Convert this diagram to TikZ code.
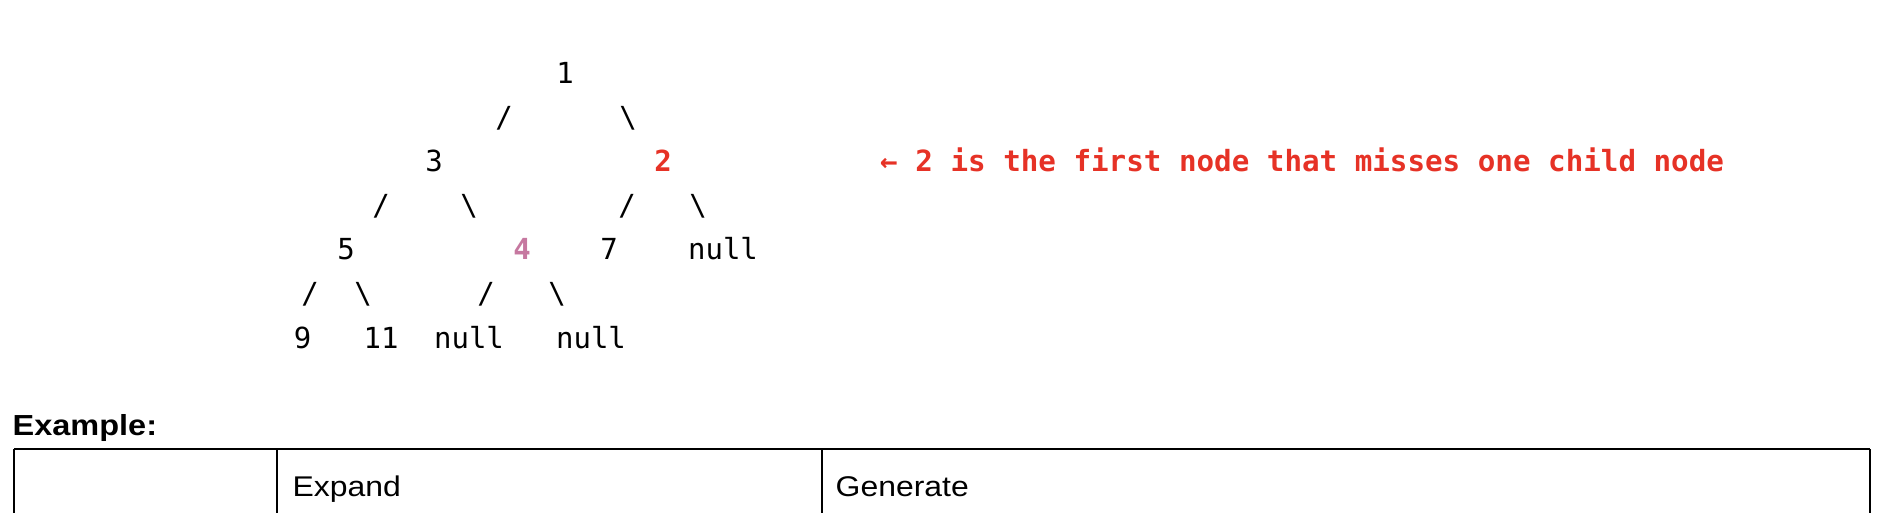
\documentclass[tikz,border=0pt]{standalone}
\usepackage{fontspec}
\setmonofont{DejaVu Sans Mono}
\newfontfamily\docsans[FakeStretch=1.12]{Liberation Sans}
\definecolor{notered}{RGB}{230,50,38}
\definecolor{notepink}{RGB}{198,120,160}

\begin{document}
\begin{tikzpicture}[x=1pt, y=-1pt,
  treetext/.style={font=\fontsize{29}{35}\selectfont\ttfamily, anchor=base, inner sep=0pt},
  doctext/.style={font=\fontsize{28.5}{34}\selectfont\docsans, anchor=base west, inner sep=0pt}]
  \useasboundingbox (0,0) rectangle (1880,512);
  \clip (0,0) rectangle (1880,512);

  % Tree, row by row
  \node[treetext] (one) at (565, 83.4) {1};
  \node[treetext] (s13) at (504, 127.5) {/};
  \node[treetext] (s12) at (628, 127.5) {\textbackslash};
  \node[treetext] (three) at (434, 171.6) {3};
  \node[treetext, notered, font=\fontsize{29}{35}\selectfont\ttfamily\bfseries] (two) at (663, 171.6) {2};
  \node[treetext] (s35) at (381, 215.7) {/};
  \node[treetext] (s34) at (469, 215.7) {\textbackslash};
  \node[treetext] (s27) at (627, 215.7) {/};
  \node[treetext] (s2n) at (698, 215.7) {\textbackslash};
  \node[treetext] (five) at (346, 259.8) {5};
  \node[treetext, notepink, font=\fontsize{29}{35}\selectfont\ttfamily\bfseries] (four) at (522, 259.8) {4};
  \node[treetext] (seven) at (609, 259.8) {7};
  \node[treetext] (nullA) at (723, 259.8) {null};
  \node[treetext] (s59) at (310, 303.9) {/};
  \node[treetext] (s511) at (363, 303.9) {\textbackslash};
  \node[treetext] (s4a) at (486, 303.9) {/};
  \node[treetext] (s4b) at (557, 303.9) {\textbackslash};
  \node[treetext] (nine) at (302.5, 348) {9};
  \node[treetext] (eleven) at (381, 348) {11};
  \node[treetext] (nullB) at (469, 348) {null};
  \node[treetext] (nullC) at (591, 348) {null};

  % Note on node 2
  \node[treetext, anchor=base west, notered, font=\fontsize{29.2}{35}\selectfont\ttfamily\bfseries] (note) at (880, 171.6) {← 2 is the first node that misses one child node};

  % Example table
  \node[doctext, font=\fontsize{29}{34}\selectfont\docsans\bfseries] (example) at (12.5, 435) {Example:};
  \draw[line width=2pt] (14,449) -- (1870,449);
  \foreach \x in {14,277,822,1870}
    \draw[line width=2pt] (\x,449) -- (\x,530);
  \node[doctext] (expand) at (292.5, 496.5) {Expand};
  \node[doctext] (generate) at (835.5, 496.5) {Generate};
\end{tikzpicture}
\end{document}
